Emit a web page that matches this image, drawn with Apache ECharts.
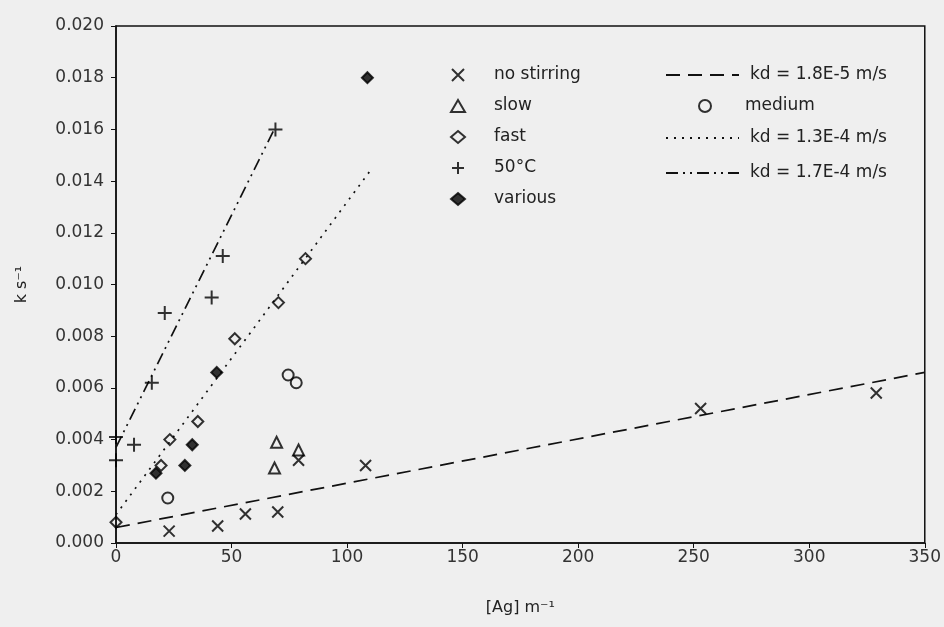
<!DOCTYPE html>
<html>
<head>
<meta charset="utf-8">
<script src="https://cdn.jsdelivr.net/npm/echarts@6/dist/echarts.min.js"></script>
<style>
  html, body { margin: 0; padding: 0; background: #efefef; }
  #chart { width: 944px; height: 627px; }
</style>
</head>
<body>
<div id="chart"></div>
<script>
// [Ag] (m^-1) vs k (s^-1)
var noStirring = [[23, 0.00046], [44, 0.00066], [56, 0.00112], [70, 0.0012], [79, 0.0032], [108, 0.0030], [253, 0.0052], [329, 0.0058]];
var slow = [[69.5, 0.0039], [68.6, 0.0029], [79, 0.0036]];
var medium = [[22.4, 0.00174], [74.5, 0.0065], [78, 0.0062]];
var fast = [[0, 0.0008], [19.5, 0.0030], [23.3, 0.0040], [35.4, 0.0047], [51.4, 0.0079], [70.3, 0.0093], [82, 0.0110]];
var at50C = [[0, 0.0032], [0, 0.0041], [7.8, 0.0038], [15.5, 0.0062], [21.1, 0.0089], [41.4, 0.0095], [46.2, 0.0111], [69, 0.0160]];
var various = [[17.3, 0.0027], [29.8, 0.0030], [33, 0.0038], [43.6, 0.0066], [108.8, 0.0180]];

// fitted lines (end points)
var fit18E5 = [[0, 0.0006], [350, 0.0066]];
var fit13E4 = [[0, 0.0011], [110, 0.0144]];
var fit17E4 = [[0, 0.0037], [69, 0.0161]];

var myChart = echarts.init(document.getElementById('chart'));
var font = 'DejaVu Sans, sans-serif';
var crossPath = 'path://M0,0L10,10M10,0L0,10';
var plusPath = 'path://M5,0L5,10M0,5L10,5';

function markerSeries(name, data, symbol, size, filled) {
  return {
    name: name,
    type: 'scatter',
    data: data,
    symbol: symbol,
    symbolSize: size,
    itemStyle: {
      color: filled ? '#000' : 'rgba(0,0,0,0)',
      borderColor: '#000',
      borderWidth: 2
    },
    z: 5
  };
}

function fitSeries(name, data, dash) {
  return {
    name: name,
    type: 'line',
    data: data,
    symbol: 'none',
    // transparent item colour hides the legend dot
    itemStyle: { color: 'rgba(0,0,0,0)', borderWidth: 0 },
    lineStyle: { color: '#111', width: 1.7, type: dash },
    z: 3
  };
}

function legendAt(names, top, left, iconW, pad, gap) {
  return {
    data: names,
    orient: 'vertical',
    top: top,
    left: left,
    itemWidth: iconW,
    itemHeight: 12,
    itemGap: gap || 10,
    textStyle: { fontFamily: font, fontSize: 17, lineHeight: 18, color: '#222', padding: [0, 0, 0, pad] }
  };
}

var option = {
  backgroundColor: '#efefef',
  animation: false,
  grid: {
    left: 116, right: 17, top: 26, bottom: 84,
    show: true, borderColor: '#111', borderWidth: 1.5, backgroundColor: 'transparent'
  },
  legend: [
    legendAt(['no stirring', 'slow', 'fast', '50°C', 'various'], 61, 445, 14, 24, 13),
    legendAt(['kd = 1.8E-5 m/s'], 61, 660, 73, 6),
    legendAt(['medium'], 92, 693, 14, 28),
    legendAt(['kd = 1.3E-4 m/s'], 124, 660, 73, 6),
    legendAt(['kd = 1.7E-4 m/s'], 159, 660, 73, 6)
  ],
  xAxis: {
    type: 'value',
    min: 0, max: 350, interval: 50,
    name: '[Ag] m⁻¹',
    nameLocation: 'middle',
    nameGap: 57,
    nameTextStyle: { fontFamily: font, fontSize: 16, color: '#222' },
    axisLine: { lineStyle: { color: '#111', width: 1.5 } },
    axisTick: { show: true, length: 5, lineStyle: { color: '#111' } },
    axisLabel: { fontFamily: font, fontSize: 17, color: '#333', margin: 6 },
    splitLine: { show: false }
  },
  yAxis: {
    type: 'value',
    min: 0, max: 0.02, interval: 0.002,
    name: 'k s⁻¹',
    nameLocation: 'middle',
    nameGap: 86,
    nameTextStyle: { fontFamily: font, fontSize: 16, color: '#222' },
    axisLine: { show: true, lineStyle: { color: '#111', width: 1.5 } },
    axisTick: { show: true, length: 5, lineStyle: { color: '#111' } },
    axisLabel: {
      fontFamily: font, fontSize: 17, color: '#333', margin: 12,
      formatter: function (v) { return v.toFixed(3); }
    },
    splitLine: { show: false }
  },
  series: [
    markerSeries('no stirring', noStirring, crossPath, 11, false),
    markerSeries('slow', slow, 'triangle', 11, false),
    markerSeries('medium', medium, 'circle', 11, false),
    markerSeries('fast', fast, 'diamond', 11, false),
    markerSeries('50°C', at50C, plusPath, 14, false),
    markerSeries('various', various, 'diamond', 11, true),
    fitSeries('kd = 1.8E-5 m/s', fit18E5, [14, 8]),
    fitSeries('kd = 1.3E-4 m/s', fit13E4, [2, 6]),
    fitSeries('kd = 1.7E-4 m/s', fit17E4, [12, 5, 2, 5, 2, 5])
  ]
};

option && myChart.setOption(option);
</script>
</body>
</html>
